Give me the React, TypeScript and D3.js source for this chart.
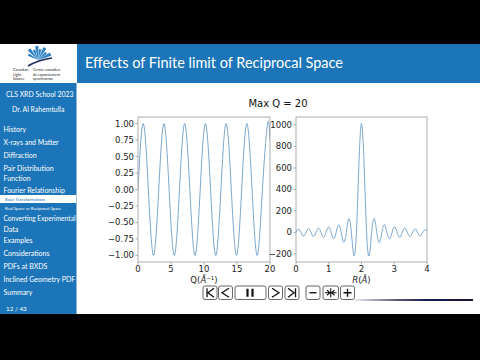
import React from "react";
import * as d3 from "d3";

// ---- data ----
const qVals = [0, 0.785, 1.571, 2.356, 3.142, 3.927, 4.712, 5.498, 6.283, 7.069, 7.854, 8.639, 9.425, 10.21, 10.996, 11.781, 12.566, 13.352, 14.137, 14.923, 15.708, 16.493, 17.279, 18.064, 18.85, 19.635, 20];
const sVals = [0, 1, 0, -1, 0, 1, 0, -1, 0, 1, 0, -1, 0, 1, 0, -1, 0, 1, 0, -1, 0, 1, 0, -1, 0, 1, 0.745];

const rVals = [0, 0.0365, 0.115, 0.1935, 0.2721, 0.3506, 0.4292, 0.5077, 0.5863, 0.6648, 0.7434, 0.8219, 0.9004, 0.979, 1.0575, 1.1361, 1.2146, 1.2931, 1.3717, 1.4502, 1.5288, 1.6073, 1.6858, 1.7644, 1.8429, 1.9215, 2, 2.0785, 2.1571, 2.2356, 2.3142, 2.3927, 2.4712, 2.5498, 2.6283, 2.7069, 2.7854, 2.8639, 2.9425, 3.021, 3.0996, 3.1781, 3.2566, 3.3352, 3.4137, 3.4923, 3.5708, 3.6494, 3.7279, 3.8064, 3.885, 3.9635, 4];
const gVals = [0, 22.8, 23.5, -25.2, -21.9, 28.0, 20.5, -31.3, -19.2, 35.4, 18.1, -40.5, -17.1, 47.1, 16.3, -56.1, -15.5, 69.1, 14.7, -89.3, -14.1, 125.8, 13.5, -210.7, -12.9, 635.2, 1012.4, 638.0, -12.0, -213.5, 11.5, 128.6, -11.1, -92.2, 10.7, 71.9, -10.4, -59.0, 10.1, 50.1, -9.8, -43.5, 9.5, 38.5, -9.2, -34.5, 8.9, 31.3, -8.7, -28.6, 8.4, 26.4, 13.8];

const leftXTicks = [0, 5, 10, 15, 20];
const leftYTicks = [-1, -0.75, -0.5, -0.25, 0, 0.25, 0.5, 0.75, 1];
const rightXTicks = [0, 1, 2, 3, 4];
const rightYTicks = [-200, 0, 200, 400, 600, 800, 1000];

const sidebarItems = [
  { t: "History", y: 129 },
  { t: "X-rays and Matter", y: 142 },
  { t: "Diffraction", y: 155 },
  { t: "Pair Distribution", y: 168 },
  { t: "Function", y: 178 },
  { t: "Fourier Relationship", y: 190 },
  { t: "Converting Experimental", y: 218, fit: 72 },
  { t: "Data", y: 229 },
  { t: "Examples", y: 240 },
  { t: "Considerations", y: 253 },
  { t: "PDFs at BXDS", y: 266 },
  { t: "Inclined Geometry PDF", y: 279 },
  { t: "Summary", y: 292 },
];

const BLUE = "#1b75b8";
const SANS = "Lato, 'Open Sans', sans-serif";
const MPL = "'DejaVu Sans', sans-serif";
const LINE = "#5b90c0";
const SPINE = "#9a9a9a";
const fmtMinus = (s: string) => s.replace("-", "\u2212");

function Axes(props: {
  x0: number; x1: number; y0: number; y1: number;
  xd: [number, number]; yd: [number, number];
  xs: number[]; ys: number[]; xt: number[]; yt: number[];
  yfmt: (v: number) => string;
}) {
  const { x0, x1, y0, y1, xd, yd, xs, ys, xt, yt, yfmt } = props;
  const xScale = d3.scaleLinear().domain(xd).range([x0, x1]);
  const yScale = d3.scaleLinear().domain(yd).range([y1, y0]);
  const line = d3
    .line<number>()
    .x((_, i) => xScale(xs[i]))
    .y((v) => yScale(v))
    .curve(d3.curveNatural);
  const clipId = `clip-${x0}`;
  return (
    <g>
      <clipPath id={clipId}>
        <rect x={x0} y={y0} width={x1 - x0} height={y1 - y0} />
      </clipPath>
      <path d={line(ys) || ""} fill="none" stroke={LINE} strokeWidth={0.8} clipPath={`url(#${clipId})`} />
      <rect x={x0} y={y0} width={x1 - x0} height={y1 - y0} fill="none" stroke={SPINE} strokeWidth={0.8} />
      {xt.map((t) => (
        <g key={"x" + t}>
          <line x1={xScale(t)} x2={xScale(t)} y1={y1} y2={y1 + 2.5} stroke={SPINE} strokeWidth={0.8} />
          <text x={xScale(t)} y={y1 + 9.5} fontSize={8.5} fontFamily={MPL} textAnchor="middle" fill="#222">
            {fmtMinus(String(t))}
          </text>
        </g>
      ))}
      {yt.map((t) => (
        <g key={"y" + t}>
          <line x1={x0 - 2.5} x2={x0} y1={yScale(t)} y2={yScale(t)} stroke={SPINE} strokeWidth={0.8} />
          <text x={x0 - 4} y={yScale(t) + 3} fontSize={8.5} fontFamily={MPL} textAnchor="end" fill="#222">
            {fmtMinus(yfmt(t))}
          </text>
        </g>
      ))}
    </g>
  );
}

function Button(props: { x: number; w: number; children: React.ReactNode }) {
  const { x, w, children } = props;
  return (
    <g>
      <rect x={x} y={286} width={w} height={13.5} rx={2} fill="#fff" stroke="#555" strokeWidth={0.9} />
      {children}
    </g>
  );
}

export default function App() {
  const bw = 14;
  const cy = 292.75;
  return (
    <svg
      width={480}
      height={360}
      style={{ position: "absolute", left: 0, top: 0 }}
      xmlns="http://www.w3.org/2000/svg"
    >
      <defs>
        <linearGradient id="prog" x1="0" x2="1" y1="0" y2="0">
          <stop offset="0" stopColor="#e8e8ee" />
          <stop offset="0.35" stopColor="#5a5a80" />
          <stop offset="0.6" stopColor="#1c1c4c" />
          <stop offset="1" stopColor="#14143c" />
        </linearGradient>
        <clipPath id="sideclip">
          <rect x={0} y={83} width={76.5} height={231} />
        </clipPath>
      </defs>
      <rect x={0} y={0} width={480} height={360} fill="#000" />
      {/* slide */}
      <rect x={0} y={44} width={480} height={270} fill="#fff" />
      {/* title bar */}
      <rect x={77} y={44} width={403} height={39} fill={BLUE} />
      <text x={85} y={68} fontSize={15} fontFamily={SANS} fill="#fff" textLength={258} lengthAdjust="spacingAndGlyphs">
        Effects of Finite limit of Reciprocal Space
      </text>
      {/* sidebar */}
      <rect x={0} y={83} width={76.5} height={231} fill={BLUE} />
      {/* logo */}
      <g>
        {[-60, -40, -22, -5, 12, 30, 48, 65].map((a, i) => {
          const r = 6 + (i % 2) * 3;
          const rad = (a - 90) * (Math.PI / 180);
          const cx = 38, cyy = 60;
          return (
            <path
              key={a}
              d={`M${cx},${cyy} L${cx + Math.cos(rad - 0.12) * (r + 5)},${cyy + Math.sin(rad - 0.12) * (r + 5)} L${cx + Math.cos(rad + 0.12) * (r + 5)},${cyy + Math.sin(rad + 0.12) * (r + 5)} Z`}
              fill="#2b7fc4"
            />
          );
        })}
        <path d="M28,66 Q38,60 52,58" stroke="#1a2a5a" strokeWidth={1.6} fill="none" />
        <text fontSize={3.8} fontFamily={SANS} fill="#222">
          <tspan x={13} y={71}>Canadian</tspan>
          <tspan x={13} y={75.5}>Light</tspan>
          <tspan x={13} y={80}>Source</tspan>
          <tspan x={33} y={71}>Centre canadien</tspan>
          <tspan x={33} y={75.5}>de rayonnement</tspan>
          <tspan x={33} y={80}>synchrotron</tspan>
        </text>
      </g>
      <g clipPath="url(#sideclip)">
        <text x={6} y={97} fontSize={6.9} fontFamily={SANS} fill="#fff">CLS XRD School 2023</text>
        <text x={12} y={112} fontSize={6.9} fontFamily={SANS} fill="#fff">Dr. Al Rahemtulla</text>
        {sidebarItems.map((it) => (
          <text
            key={it.t + it.y}
            x={3.5}
            y={it.y + 2.5}
            fontSize={7}
            fontFamily={SANS}
            fill="#fff"
            textLength={it.fit}
            lengthAdjust={it.fit ? "spacingAndGlyphs" : undefined}
          >
            {it.t}
          </text>
        ))}
        <rect x={0} y={195} width={76.5} height={8} fill="#fff" />
        <text x={5} y={201} fontSize={4.2} fontFamily={SANS} fill={BLUE}>Basic Transformations</text>
        <text x={5} y={209.5} fontSize={4.2} fontFamily={SANS} fill="#fff">Real Space vs Reciprocal Space</text>
        <text x={6} y={311} fontSize={6.3} fontFamily={SANS} fill="#fff">12 / 43</text>
      </g>

      {/* figure */}
      <text x={278} y={107} fontSize={10} fontFamily={MPL} textAnchor="middle" fill="#111">
        Max Q = 20
      </text>
      <Axes
        x0={138} x1={270} y0={117} y1={262}
        xd={[0, 20]} yd={[-1.1, 1.1]}
        xs={qVals} ys={sVals} xt={leftXTicks} yt={leftYTicks}
        yfmt={(v) => v.toFixed(2)}
      />
      <Axes
        x0={296} x1={427} y0={117} y1={262}
        xd={[0, 4]} yd={[-274.8, 1073.7]}
        xs={rVals} ys={gVals} xt={rightXTicks} yt={rightYTicks}
        yfmt={(v) => String(v)}
      />
      <text x={204} y={283} fontSize={8.5} fontFamily={MPL} textAnchor="middle" fill="#222">
        Q(<tspan fontStyle="italic">Å</tspan>
        <tspan fontSize={5.5} dy={-3}>−1</tspan>
        <tspan dy={3}>)</tspan>
      </text>
      <text x={361.5} y={283} fontSize={8.5} fontFamily={MPL} textAnchor="middle" fill="#222">
        <tspan fontStyle="italic">R</tspan>(<tspan fontStyle="italic">Å</tspan>)
      </text>

      {/* controls */}
      <Button x={203} w={bw}>
        <path d={`M207,${cy - 4.5} V${cy + 4.5} M214,${cy - 4.5} L208,${cy} L214,${cy + 4.5}`} stroke="#111" strokeWidth={1.3} fill="none" />
      </Button>
      <Button x={218.5} w={bw}>
        <path d={`M229,${cy - 4.5} L222,${cy} L229,${cy + 4.5}`} stroke="#111" strokeWidth={1.3} fill="none" />
      </Button>
      <Button x={235} w={31}>
        <path d={`M247.5,${cy - 4} V${cy + 4} M252.5,${cy - 4} V${cy + 4}`} stroke="#111" strokeWidth={2.2} fill="none" />
      </Button>
      <Button x={268.5} w={bw}>
        <path d={`M272,${cy - 4.5} L279,${cy} L272,${cy + 4.5}`} stroke="#111" strokeWidth={1.3} fill="none" />
      </Button>
      <Button x={285} w={bw}>
        <path d={`M288,${cy - 4.5} L294,${cy} L288,${cy + 4.5} M295.5,${cy - 4.5} V${cy + 4.5}`} stroke="#111" strokeWidth={1.3} fill="none" />
      </Button>
      <Button x={306} w={bw}>
        <path d={`M309.5,${cy} H316.5`} stroke="#111" strokeWidth={1.4} />
      </Button>
      <Button x={323} w={15.5}>
        <path d={`M330.75,${cy - 4.5} V${cy + 4.5} M325,${cy} H336.5 M327,${cy - 2.5} L330,${cy} L327,${cy + 2.5} M334.5,${cy - 2.5} L331.5,${cy} L334.5,${cy + 2.5}`} stroke="#111" strokeWidth={1.1} fill="none" />
      </Button>
      <Button x={340.5} w={bw}>
        <path d={`M343.5,${cy} H351.5 M347.5,${cy - 4} V${cy + 4}`} stroke="#111" strokeWidth={1.4} />
      </Button>
      <rect x={355} y={299} width={118} height={2} fill="url(#prog)" />
    </svg>
  );
}
